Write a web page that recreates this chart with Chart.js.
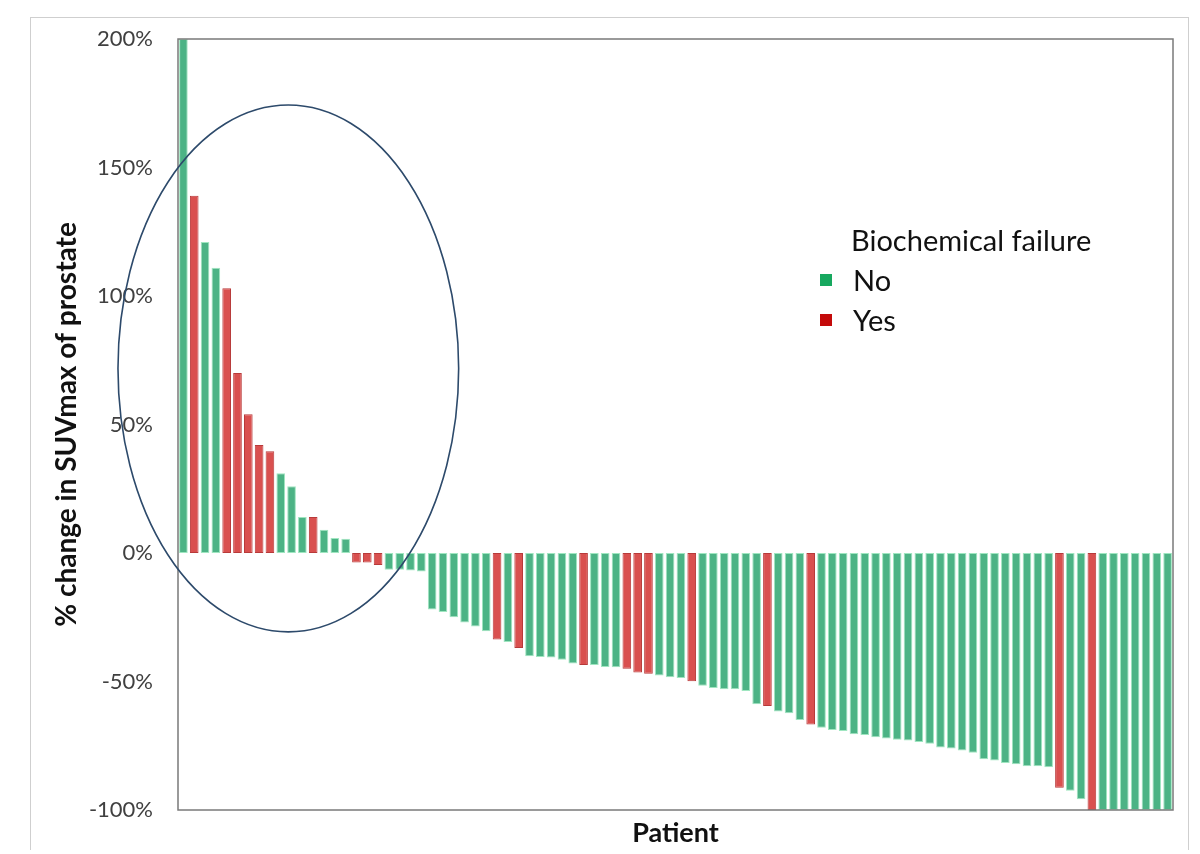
<!DOCTYPE html>
<html>
<head>
<meta charset="utf-8">
<script src="https://cdn.jsdelivr.net/npm/chart.js@4.4.0/dist/chart.umd.min.js"></script>
<style>
  html, body { margin: 0; padding: 0; background: #fff; }
  #wrap { position: relative; width: 1200px; height: 854px; }
  #frame { position: absolute; left: 30px; top: 17px; width: 1157px; height: 832px;
           border-left: 1.5px solid #cfcfcf; border-top: 1.5px solid #cfcfcf; border-right: 1.5px solid #cfcfcf; }
  #legend { position: absolute; left: 818px; top: 220px; font-family: Lato, "Open Sans", sans-serif; color: #111; }
  #legend .t { font-size: 29px; margin-left: 33px; line-height: 40px; }
  #legend .i { font-size: 29px; line-height: 40px; display: flex; align-items: center; }
  #legend .s { width: 12px; height: 12px; margin-right: 21px; margin-left: 2px; }
  canvas { position: absolute; left: 0; top: 0; }
</style>
</head>
<body>
<div id="wrap">
  <div id="frame"></div>
  <canvas id="c" width="1200" height="854"></canvas>
  <div id="legend">
    <div class="t">Biochemical failure</div>
    <div class="i"><span class="s" style="background:#17a85f"></span>No</div>
    <div class="i"><span class="s" style="background:#c40a0a"></span>Yes</div>
  </div>
</div>
<script>
// % change in SUVmax of prostate per patient (sorted waterfall)
const changeValues = [200, 139, 121, 111, 103, 70, 54, 42, 39.6, 31, 26, 14, 14, 9, 5.8, 5.5,
  -3.7, -3.7, -4.7, -6.5, -6.5, -6.8, -7.2,
  -22, -23, -25, -27, -28.6, -30.4, -33.7, -34.6, -37, -40.2, -40.5, -40.7, -41.5, -43, -43.6, -43.6,
  -44.4, -44.5, -45, -46.5, -47, -47.7, -48.3, -48.6, -49.9, -51.7, -52.5, -53, -53, -53.7, -58.9, -59.5, -61.7, -62.4, -65, -66.7, -68, -68.9,
  -69.3, -70.5, -70.8, -71.7, -72.2, -72.7, -73, -73.5, -74.2, -75.7, -76.1, -76.8, -77.7, -80.3, -80.7, -81.7, -82.2, -83, -83, -83.4, -91.3, -92.5, -95.8,
  -100, -100, -100, -100, -100, -100, -100, -100];
// Biochemical failure: patient numbers (1-based) with "Yes"
const failurePatients = [2, 5, 6, 7, 8, 9, 13, 17, 18, 19, 30, 32, 38, 42, 43, 44, 48, 55, 59, 82, 85];
const patients = changeValues.map((v, i) => String(i + 1));
const yTicks = [-100, -50, 0, 50, 100, 150, 200];
const seriesNames = ["No", "Yes"];
// highlighted ellipse annotation, in data units (category index, %)
const ellipseCenter = [9.7, 71.8];
const ellipseRadii = [15.75, 102.5];

const isFail = patients.map((p, i) => failurePatients.includes(i + 1));
const fillNo = '#4cb385', fillYes = '#d9504f';
const edgeNo = '#9fe6c0', edgeYes = '#b83a3a';

const framePlugin = {
  id: 'frameAndEllipse',
  afterDatasetsDraw(chart) {
    const { ctx, chartArea: a, scales: { x, y } } = chart;
    ctx.save();
    ctx.strokeStyle = '#7a7a7a';
    ctx.lineWidth = 1.5;
    ctx.strokeRect(a.left, a.top, a.right - a.left, a.bottom - a.top);
    const step = x.getPixelForValue(1) - x.getPixelForValue(0);
    const cx = x.getPixelForValue(0) + ellipseCenter[0] * step;
    const cy = y.getPixelForValue(ellipseCenter[1]);
    const rx = ellipseRadii[0] * step;
    const ry = Math.abs(y.getPixelForValue(ellipseRadii[1]) - y.getPixelForValue(0));
    ctx.beginPath();
    ctx.ellipse(cx, cy, rx, ry, 0, 0, Math.PI * 2);
    ctx.strokeStyle = '#2d4a6b';
    ctx.lineWidth = 1.6;
    ctx.stroke();
    ctx.restore();
  }
};

new Chart(document.getElementById('c'), {
  type: 'bar',
  data: {
    labels: patients,
    datasets: [{
      data: changeValues,
      backgroundColor: isFail.map(f => f ? fillYes : fillNo),
      borderColor: isFail.map(f => f ? edgeYes : edgeNo),
      borderWidth: 1,
      borderSkipped: false,
      barPercentage: 0.8,
      categoryPercentage: 1.0
    }]
  },
  options: {
    responsive: false,
    animation: false,
    layout: { padding: { left: 0, right: 27, top: 39, bottom: 0 } },
    plugins: { legend: { display: false }, tooltip: { enabled: false } },
    scales: {
      x: {
        grid: { display: false, drawTicks: false },
        border: { display: false },
        ticks: { display: false },
        title: { display: true, text: 'Patient', color: '#111',
                 font: { family: 'Lato', size: 27, weight: 'bold' }, padding: { top: 0, bottom: 5 } },
        afterFit(s) { s.height = 44; }
      },
      y: {
        min: -100, max: 200,
        afterBuildTicks(s) { s.ticks = yTicks.map(v => ({ value: v })); },
        grid: { display: false, drawTicks: false },
        border: { display: false },
        ticks: { padding: 25, color: '#404040', font: { family: 'Lato', size: 22 },
                 callback: v => v + '%' },
        title: { display: true, text: '% change in SUVmax of prostate', color: '#111',
                 font: { family: 'Lato', size: 28, weight: 'bold' }, padding: { top: 50, bottom: 0 } },
        afterFit(s) { s.width = 178; }
      }
    }
  },
  plugins: [framePlugin]
});
</script>
</body>
</html>
